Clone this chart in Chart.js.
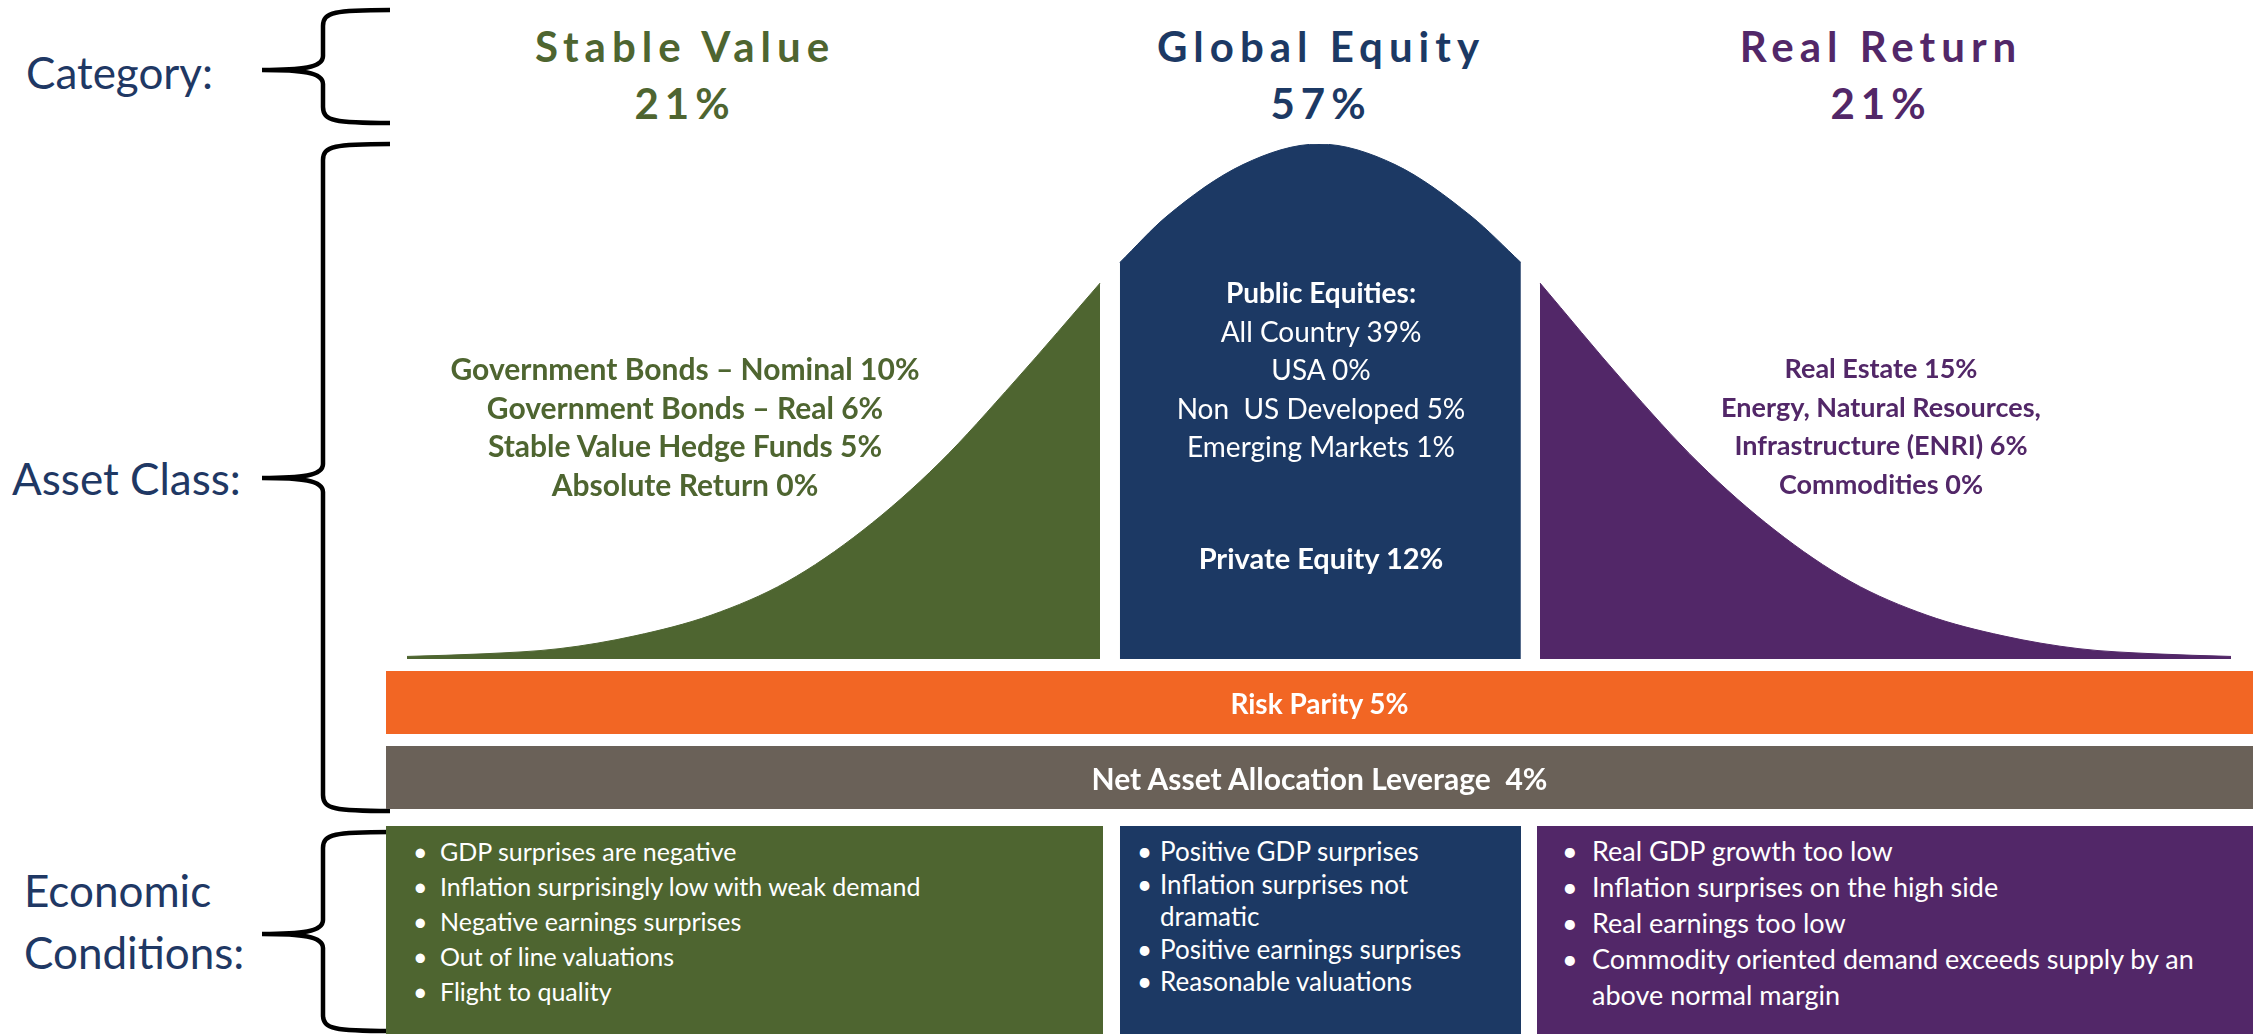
<!DOCTYPE html>
<html>
<head>
<meta charset="utf-8">
<script src="https://cdn.jsdelivr.net/npm/chart.js@4.4.1/dist/chart.umd.min.js"></script>
<style>
  html, body { margin: 0; padding: 0; background: #fff; }
  body { width: 2257px; height: 1034px; position: relative; overflow: hidden; font-family: Lato, 'Open Sans', sans-serif; }
  canvas { position: absolute; }
  .side { position: absolute; color: #1f3864; font-size: 44px; line-height: 62px; white-space: nowrap; }
  .cat { position: absolute; text-align: center; font-weight: bold; font-size: 42px; letter-spacing: 6px; line-height: 57px; transform: translateX(-50%); white-space: nowrap; }
  .asset { position: absolute; text-align: center; font-size: 28px; line-height: 38.6px; transform: translateX(-50%); white-space: nowrap; }
  .band-label { position: absolute; left: 386px; width: 1867px; text-align: center; color: #fff; font-weight: bold; }
  .box { position: absolute; top: 826px; height: 208px; color: #fff; box-sizing: border-box; }
  .box div { position: relative; white-space: pre-line; }
  #braces { position: absolute; left: 0; top: 0; }
</style>
</head>
<body>

<svg id="braces" width="2257" height="1034"></svg>

<div class="side" style="left:26px; top:41px;">Category:</div>
<div class="side" style="left:12px; top:447px;">Asset Class:</div>
<div class="side" style="left:24px; top:859px;">Economic<br>Conditions:</div>

<div id="titles"></div>
<canvas id="curve" width="1824" height="515" style="left:407px; top:144px;"></canvas>
<div id="assets"></div>
<canvas id="bands" width="1867" height="150" style="left:386px; top:665px;"></canvas>
<div id="bandText"></div>
<div id="boxes"></div>

<script>
// categories
const categories = ['Stable Value', 'Global Equity', 'Real Return'];
const categoryShares = ['21%', '57%', '21%'];
const colors = ['#4e6530', '#1c3964', '#522768'];

// bell curve (x in spread units, y in % of peak)
const stableX = [-3, -2.75, -2.5, -2.25, -2, -1.75, -1.5, -1.25, -1, -0.72];
const stableY = [0.5, 1, 2, 4.5, 8.5, 15, 25, 38, 54, 73];
const equityX = [-0.655, -0.5, -0.25, 0, 0.25, 0.5, 0.664];
const equityY = [77, 86, 96, 100, 96, 86, 77];
const realX = [0.727, 1, 1.25, 1.5, 1.75, 2, 2.25, 2.5, 2.75, 3];
const realY = [73, 54, 38, 25, 15, 8.5, 4.5, 2, 1, 0.5];

// asset classes
const stableAssets = ['Government Bonds \u2013 Nominal 10%', 'Government Bonds \u2013 Real 6%', 'Stable Value Hedge Funds 5%', 'Absolute Return 0%'];
const publicEquities = ['All Country 39%', 'USA 0%', 'Non\u00a0 US Developed 5%', 'Emerging Markets 1%'];
const privateEquity = 'Private Equity 12%';
const realAssets = ['Real Estate 15%', 'Energy, Natural Resources,', 'Infrastructure (ENRI) 6%', 'Commodities 0%'];

// bands across the whole width
const bandLabels = ['Risk Parity 5%', 'Net Asset Allocation Leverage\u00a0 4%'];
const bandSpans = [[0, 1], [0, 1]];
const bandColors = ['#f26624', '#6a6158'];

// economic conditions
const stableConditions = ['GDP surprises are negative', 'Inflation surprisingly low with weak demand', 'Negative earnings surprises', 'Out of line valuations', 'Flight to quality'];
const equityConditions = ['Positive GDP surprises', 'Inflation surprises not\ndramatic', 'Positive earnings surprises', 'Reasonable valuations'];
const realConditions = ['Real GDP growth too low', 'Inflation surprises on the high side', 'Real earnings too low', 'Commodity oriented demand exceeds supply by an\nabove normal margin'];

// braces on the left
const braceSvg = document.getElementById('braces');
const brace = (top, bottom, tip) => {
    const xt = 262, xv = 323, xe = 390;
    const d = `M ${xe} ${top} C ${xv + 12} ${top}, ${xv} ${top + 2}, ${xv} ${top + 16}
      L ${xv} ${tip - 14} C ${xv} ${tip - 2}, ${xv - 22} ${tip}, ${xt} ${tip}
      C ${xv - 22} ${tip}, ${xv} ${tip + 2}, ${xv} ${tip + 14}
      L ${xv} ${bottom - 16} C ${xv} ${bottom - 2}, ${xv + 12} ${bottom}, ${xe} ${bottom}`;
    braceSvg.innerHTML += `<path d="${d}" fill="none" stroke="#000" stroke-width="4.5"/>`;
};
brace(10, 123, 70);
brace(144, 811, 478);
brace(832, 1031, 934);

// category titles
const titleX = [685, 1321, 1881];
document.querySelector('#titles').innerHTML = categories.map((c, i) =>
    `<div class="cat" style="left:${titleX[i]}px; top:18px; color:${colors[i]}">${c}<br>${categoryShares[i]}</div>`
).join('');

// asset class texts
const assets = document.querySelector('#assets');
assets.innerHTML =
    `<div class="asset" style="left:685px; top:349px; color:${colors[0]}; font-weight:bold; font-size:30px">${stableAssets.join('<br>')}</div>` +
    `<div class="asset" style="left:1321px; top:273px; color:#fff"><b>Public Equities:</b><br>${publicEquities.join('<br>')}</div>` +
    `<div class="asset" style="left:1321px; top:539px; color:#fff; font-weight:bold; font-size:29px">${privateEquity}</div>` +
    `<div class="asset" style="left:1881px; top:349px; color:${colors[2]}; font-weight:bold; font-size:27px">${realAssets.join('<br>')}</div>`;

// bell curve
const toPoints = (xs, ys) => xs.map((x, i) => ({ x: x, y: ys[i] }));
const curveSet = (xs, ys, color) => ({
    data: toPoints(xs, ys),
    backgroundColor: color,
    borderColor: color,
    borderWidth: 1,
    fill: 'origin',
    pointRadius: 0,
    cubicInterpolationMode: 'monotone'
});

new Chart(document.getElementById('curve'), {
    type: 'line',
    data: {
        datasets: [
            curveSet(stableX, stableY, colors[0]),
            curveSet(equityX, equityY, colors[1]),
            curveSet(realX, realY, colors[2])
        ]
    },
    options: {
        responsive: false,
        animation: false,
        devicePixelRatio: 1,
        layout: { padding: 0 },
        plugins: { legend: { display: false }, tooltip: { enabled: false } },
        scales: {
            x: { type: 'linear', min: -3, max: 3, display: false },
            y: { min: 0, max: 100, display: false }
        }
    }
});

// risk parity / leverage bands
new Chart(document.getElementById('bands'), {
    type: 'bar',
    data: {
        labels: bandLabels,
        datasets: [{
            data: bandSpans,
            backgroundColor: bandColors,
            borderWidth: 0,
            barPercentage: 0.84,
            categoryPercentage: 1
        }]
    },
    options: {
        indexAxis: 'y',
        responsive: false,
        animation: false,
        devicePixelRatio: 1,
        layout: { padding: 0 },
        plugins: { legend: { display: false }, tooltip: { enabled: false } },
        scales: {
            x: { min: 0, max: 1, display: false },
            y: { display: false }
        }
    }
});
const bandTop = [685, 760];
document.querySelector('#bandText').innerHTML = bandLabels.map((b, i) =>
    `<div class="band-label" style="top:${bandTop[i]}px; line-height:36px; font-size:${i ? 30 : 28}px">${b}</div>`
).join('');

// condition boxes
const boxDefs = [
    { items: stableConditions, left: 386, width: 717, bullet: 27, text: 54, lh: 35, pad: 8, size: 25 },
    { items: equityConditions, left: 1120, width: 401, bullet: 17, text: 40, lh: 32.5, pad: 9, size: 26 },
    { items: realConditions, left: 1537, width: 716, bullet: 25, text: 55, lh: 36, pad: 7, size: 27 }
];
document.querySelector('#boxes').innerHTML = boxDefs.map((b, i) =>
    `<div class="box" style="left:${b.left}px; width:${b.width}px; background:${colors[i]}; padding-top:${b.pad}px; font-size:${b.size}px; line-height:${b.lh}px">` +
    b.items.map(t => `<div style="padding-left:${b.text}px"><span style="position:absolute; left:${b.bullet}px">\u2022</span>${t}</div>`).join('') +
    `</div>`
).join('');
</script>
</body>
</html>
